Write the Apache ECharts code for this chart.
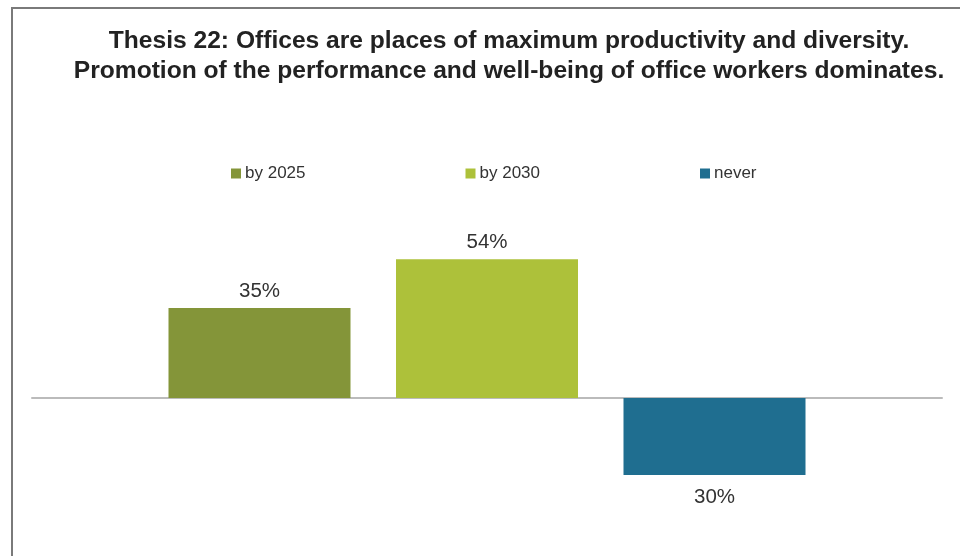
<!DOCTYPE html>
<html>
<head>
<meta charset="utf-8">
<script src="https://cdn.jsdelivr.net/npm/echarts@6/dist/echarts.min.js"></script>
<style>
  html, body { margin: 0; padding: 0; background: #fff; }
  #chart { width: 960px; height: 556px; }
</style>
</head>
<body>
<div id="chart"></div>
<script>
// Survey answers for thesis 22 (share of respondents, "never" drawn below the axis)
const titleLines = [
  'Thesis 22: Offices are places of maximum productivity and diversity.',
  'Promotion of the performance and well-being of office workers dominates.'
];
const categories = ['Thesis 22'];
const seriesNames = ['by 2025', 'by 2030', 'never'];
const seriesValues = [35, 54, -30];
const seriesColors = ['#849539', '#adc13a', '#1f6e90'];

const FONT = 'Liberation Sans, Arial, sans-serif';
const chart = echarts.init(document.getElementById('chart'), null, { renderer: 'canvas' });

const series = seriesNames.map((name, i) => ({
  name: name,
  type: 'bar',
  data: [seriesValues[i]],
  itemStyle: { color: seriesColors[i] },
  barGap: '25%',
  barCategoryGap: '30%',
  label: {
    show: true,
    position: seriesValues[i] < 0 ? 'bottom' : 'top',
    distance: seriesValues[i] < 0 ? 12 : 6,
    formatter: p => Math.abs(p.value) + '%',
    fontFamily: FONT,
    fontSize: 20.5,
    color: '#333'
  }
}));

const titleText = (text, y) => ({
  type: 'text',
  x: 509,
  y: y,
  style: {
    text: text,
    align: 'center',
    verticalAlign: 'middle',
    fontFamily: FONT,
    fontWeight: 'bold',
    fontSize: 24.6,
    fill: '#222'
  }
});

chart.setOption({
  animation: false,
  backgroundColor: '#fff',
  graphic: [
    {
      type: 'rect',
      shape: { x: 12, y: 8, width: 1000, height: 600 },
      style: { fill: 'none', stroke: '#7a7a7a', lineWidth: 2 },
      silent: true
    },
    titleText(titleLines[0], 41),
    titleText(titleLines[1], 71)
  ],
  legend: {
    data: seriesNames,
    left: 231,
    top: 165,
    padding: 0,
    itemWidth: 10,
    itemHeight: 10,
    itemGap: 160,
    icon: 'rect',
    textStyle: {
      fontFamily: FONT,
      fontSize: 17,
      color: '#333',
      padding: [0, 0, 0, -1]
    }
  },
  grid: { left: 32, right: 18, top: 243.8, height: 257 },
  xAxis: {
    type: 'category',
    data: categories,
    axisLine: { onZero: true, lineStyle: { color: '#bbbbbb', width: 2 } },
    axisTick: { show: false },
    axisLabel: { show: false }
  },
  yAxis: {
    type: 'value',
    min: -40,
    max: 60,
    show: false,
    splitLine: { show: false }
  },
  series: series
});
</script>
</body>
</html>
